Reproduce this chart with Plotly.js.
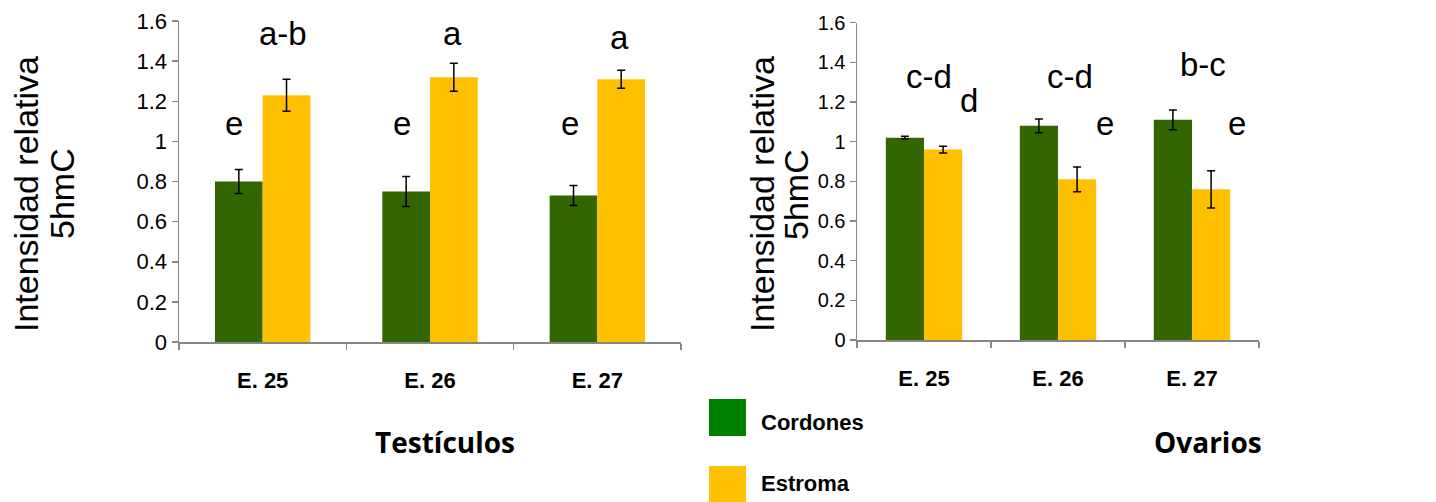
<!DOCTYPE html>
<html>
<head>
<meta charset="utf-8">
<script src="https://cdn.plot.ly/plotly-3.0.1.min.js"></script>
<style>
  html, body { margin: 0; padding: 0; background: #ffffff; }
  #chart { width: 1436px; height: 502px; }
</style>
</head>
<body>
<div id="chart"></div>
<script>
// Embryonic days on the category axis
const categories = ['E. 25', 'E. 26', 'E. 27'];

// Testículos: relative 5hmC intensity (mean and error)
const testCordones = [0.80, 0.75, 0.73];
const testCordonesErr = [0.06, 0.075, 0.05];
const testEstroma = [1.23, 1.32, 1.31];
const testEstromaErr = [0.08, 0.07, 0.045];

// Ovarios: relative 5hmC intensity (mean and error)
const ovaCordones = [1.02, 1.08, 1.11];
const ovaCordonesErr = [0.007, 0.035, 0.05];
const ovaEstroma = [0.96, 0.81, 0.76];
const ovaEstromaErr = [0.017, 0.062, 0.094];

// Significance letters
const testCordonesLetters = ['e', 'e', 'e'];
const testEstromaLetters = ['a-b', 'a', 'a'];
const ovaCordonesLetters = ['c-d', 'c-d', 'b-c'];
const ovaEstromaLetters = ['d', 'e', 'e'];

// Series names and titles
const seriesNames = ['Cordones', 'Estroma'];
const panelTitles = ['Testículos', 'Ovarios'];
const yTitleLines = ['Intensidad relativa', '5hmC'];

// ---- styling ----
const W = 1436, H = 502;
const GREEN = '#336600';
const YELLOW = '#FFC000';
const LEGEND_GREEN = '#008000';
const AXIS_GREY = '#868686';
const FONT = 'Liberation Sans, Arial, Helvetica, sans-serif';
const TITLE_FONT = 'Open Sans, Noto Sans, sans-serif';

const px = v => v / W;          // horizontal pixel -> paper
const py = v => (H - v) / H;    // vertical pixel (from top) -> paper

function barTrace(name, y, err, color, xa, ya) {
  return {
    type: 'bar', name: name, x: categories, y: y,
    xaxis: xa, yaxis: ya, showlegend: false,
    marker: { color: color, line: { width: 0 } },
    error_y: { type: 'data', array: err, visible: true, color: '#000000', thickness: 1.5, width: 4 },
    hoverinfo: 'skip'
  };
}

const data = [
  barTrace(seriesNames[0], testCordones, testCordonesErr, GREEN, 'x', 'y'),
  barTrace(seriesNames[1], testEstroma, testEstromaErr, YELLOW, 'x', 'y'),
  barTrace(seriesNames[0], ovaCordones, ovaCordonesErr, GREEN, 'x2', 'y2'),
  barTrace(seriesNames[1], ovaEstroma, ovaEstromaErr, YELLOW, 'x2', 'y2')
];

// letter placement: offset from category centre (category units) and height (axis units)
const letterPlacement = {
  testCordones: { dx: [-0.17, -0.165, -0.165], y: [1.09, 1.09, 1.09] },
  testEstroma:  { dx: [0.12, 0.135, 0.135],    y: [1.54, 1.54, 1.52] },
  ovaCordones:  { dx: [0.037, 0.09, 0.082],    y: [1.33, 1.33, 1.39] },
  ovaEstroma:   { dx: [0.336, 0.35, 0.336],    y: [1.21, 1.094, 1.094] }
};

const annotations = [];
function addLetters(letters, place, xref, yref) {
  letters.forEach((t, i) => {
    annotations.push({
      text: t, x: i + place.dx[i], y: place.y[i], xref: xref, yref: yref,
      showarrow: false, xanchor: 'center', yanchor: 'middle',
      font: { family: FONT, size: 33, color: '#000000' }
    });
  });
}
addLetters(testCordonesLetters, letterPlacement.testCordones, 'x', 'y');
addLetters(testEstromaLetters, letterPlacement.testEstroma, 'x', 'y');
addLetters(ovaCordonesLetters, letterPlacement.ovaCordones, 'x2', 'y2');
addLetters(ovaEstromaLetters, letterPlacement.ovaEstroma, 'x2', 'y2');

// rotated y titles, one annotation per line
function addYTitle(cx1, cx2, cy) {
  [cx1, cx2].forEach((cx, k) => {
    annotations.push({
      text: yTitleLines[k], textangle: -90, x: px(cx), y: py(cy),
      xref: 'paper', yref: 'paper', showarrow: false,
      xanchor: 'center', yanchor: 'middle',
      font: { family: FONT, size: 34, color: '#000000' }
    });
  });
}
addYTitle(26, 62, 194);
addYTitle(762, 796, 194);

// panel titles
annotations.push({
  text: '<b>' + panelTitles[0] + '</b>', x: px(445), y: py(442), xref: 'paper', yref: 'paper',
  showarrow: false, xanchor: 'center', yanchor: 'middle',
  font: { family: TITLE_FONT, size: 28, color: '#000000' }
});
annotations.push({
  text: '<b>' + panelTitles[1] + '</b>', x: px(1208), y: py(442), xref: 'paper', yref: 'paper',
  showarrow: false, xanchor: 'center', yanchor: 'middle',
  font: { family: TITLE_FONT, size: 28, color: '#000000' }
});

// legend: coloured squares with bold names
const legendRows = [
  { name: seriesNames[0], color: LEGEND_GREEN, top: 399, bottom: 436, textY: 422 },
  { name: seriesNames[1], color: YELLOW, top: 466, bottom: 502, textY: 483 }
];
const shapes = [];
legendRows.forEach(r => {
  shapes.push({
    type: 'rect', xref: 'paper', yref: 'paper',
    x0: px(709), x1: px(746), y0: py(r.bottom), y1: py(r.top),
    fillcolor: r.color, line: { width: 0 }
  });
  annotations.push({
    text: '<b>' + r.name + '</b>', x: px(759), y: py(r.textY), xref: 'paper', yref: 'paper',
    showarrow: false, xanchor: 'left', yanchor: 'middle',
    font: { family: FONT, size: 22, color: '#000000' }
  });
});

function xAxis(domain, anchor) {
  return {
    domain: domain, anchor: anchor, type: 'category', range: [-0.5, 2.5],
    showline: true, linecolor: AXIS_GREY, linewidth: 1.5,
    ticks: 'outside', tickson: 'boundaries', ticklen: 6, tickcolor: AXIS_GREY, tickwidth: 1.5,
    showgrid: false, zeroline: false, ticklabelstandoff: 18,
    tickfont: { family: FONT, size: 22, color: '#000000', weight: 'bold' },
    fixedrange: true
  };
}
function yAxis(domain, anchor, size) {
  return {
    domain: domain, anchor: anchor, range: [0, 1.6], dtick: 0.2, tick0: 0,
    showline: true, linecolor: AXIS_GREY, linewidth: 1.5,
    ticks: 'outside', ticklen: 6, tickcolor: AXIS_GREY, tickwidth: 1.5,
    showgrid: false, zeroline: false, ticklabelstandoff: 0,
    tickfont: { family: FONT, size: size, color: '#000000' },
    fixedrange: true
  };
}

const layout = {
  width: W, height: H,
  margin: { l: 0, r: 0, t: 0, b: 0, pad: 0 },
  paper_bgcolor: '#ffffff', plot_bgcolor: '#ffffff',
  barmode: 'group', bargap: 0.43, bargroupgap: 0,
  showlegend: false,
  xaxis: xAxis([px(179), px(681)], 'y'),
  yaxis: yAxis([py(342), py(21)], 'x', 22),
  xaxis2: xAxis([px(857), px(1259)], 'y2'),
  yaxis2: yAxis([py(340), py(22.7)], 'x2', 20),
  annotations: annotations,
  shapes: shapes
};

Plotly.newPlot('chart', data, layout, { staticPlot: true, displayModeBar: false });
</script>
</body>
</html>
